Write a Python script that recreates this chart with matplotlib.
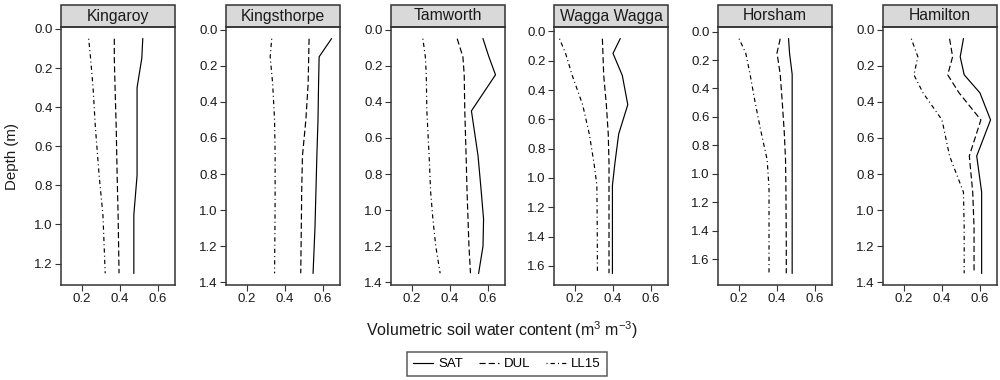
import matplotlib
matplotlib.use('Agg')
import matplotlib.pyplot as plt
from matplotlib.patches import Rectangle
from matplotlib.ticker import MultipleLocator, FormatStrFormatter
from matplotlib.lines import Line2D

plt.rcParams['font.family'] = ['Liberation Sans', 'DejaVu Sans']
plt.rcParams['mathtext.fontset'] = 'custom'
plt.rcParams['mathtext.rm'] = 'Liberation Sans'
plt.rcParams['mathtext.it'] = 'Liberation Sans'

# 各地点の土壌水分プロファイル (depth m, volumetric water content)
sites = ['Kingaroy', 'Kingsthorpe', 'Tamworth', 'Wagga Wagga', 'Horsham', 'Hamilton']

kingaroy_depth = [0.05, 0.15, 0.3, 0.5, 0.75, 0.95, 1.25]
kingaroy_sat = [0.52, 0.515, 0.49, 0.49, 0.49, 0.473, 0.473]
kingaroy_dul = [0.37, 0.37, 0.374, 0.38, 0.385, 0.39, 0.395]
kingaroy_ll15 = [0.235, 0.245, 0.258, 0.27, 0.29, 0.31, 0.322]

kingsthorpe_depth = [0.05, 0.15, 0.3, 0.5, 0.7, 0.9, 1.1, 1.35]
kingsthorpe_sat = [0.645, 0.58, 0.577, 0.574, 0.568, 0.563, 0.558, 0.548]
kingsthorpe_dul = [0.527, 0.525, 0.522, 0.51, 0.492, 0.488, 0.486, 0.483]
kingsthorpe_ll15 = [0.33, 0.322, 0.335, 0.345, 0.348, 0.348, 0.347, 0.345]

tamworth_depth = [0.05, 0.15, 0.25, 0.45, 0.7, 0.9, 1.05, 1.2, 1.35]
tamworth_sat = [0.574, 0.605, 0.64, 0.513, 0.548, 0.565, 0.577, 0.574, 0.551]
tamworth_dul = [0.438, 0.468, 0.475, 0.478, 0.485, 0.49, 0.495, 0.5, 0.508]
tamworth_ll15 = [0.257, 0.27, 0.275, 0.278, 0.29, 0.298, 0.31, 0.325, 0.348]

wagga_depth = [0.05, 0.15, 0.3, 0.5, 0.7, 0.9, 1.05, 1.35, 1.65]
wagga_sat = [0.438, 0.4, 0.449, 0.478, 0.43, 0.41, 0.397, 0.397, 0.397]
wagga_dul = [0.344, 0.347, 0.351, 0.365, 0.375, 0.379, 0.379, 0.379, 0.379]
wagga_ll15 = [0.118, 0.15, 0.185, 0.24, 0.275, 0.3, 0.315, 0.317, 0.318]

horsham_depth = [0.05, 0.15, 0.3, 0.5, 0.7, 0.9, 1.1, 1.3, 1.5, 1.7]
horsham_sat = [0.461, 0.466, 0.48, 0.48, 0.48, 0.48, 0.48, 0.48, 0.48, 0.48]
horsham_dul = [0.417, 0.4, 0.417, 0.428, 0.438, 0.445, 0.447, 0.448, 0.449, 0.449]
horsham_ll15 = [0.2, 0.235, 0.258, 0.285, 0.315, 0.348, 0.358, 0.358, 0.358, 0.358]

hamilton_depth = [0.05, 0.15, 0.25, 0.35, 0.5, 0.7, 0.9, 1.1, 1.35]
hamilton_sat = [0.513, 0.496, 0.517, 0.6, 0.656, 0.583, 0.609, 0.609, 0.609]
hamilton_dul = [0.44, 0.456, 0.43, 0.49, 0.605, 0.544, 0.562, 0.569, 0.569]
hamilton_ll15 = [0.238, 0.273, 0.252, 0.3, 0.4, 0.44, 0.513, 0.517, 0.517]

depths = [kingaroy_depth, kingsthorpe_depth, tamworth_depth, wagga_depth, horsham_depth, hamilton_depth]
sat = [kingaroy_sat, kingsthorpe_sat, tamworth_sat, wagga_sat, horsham_sat, hamilton_sat]
dul = [kingaroy_dul, kingsthorpe_dul, tamworth_dul, wagga_dul, horsham_dul, hamilton_dul]
ll15 = [kingaroy_ll15, kingsthorpe_ll15, tamworth_ll15, wagga_ll15, horsham_ll15, hamilton_ll15]

x_ticks = [0.2, 0.4, 0.6]
legend_labels = ['SAT', 'DUL', 'LL15']

W, H = 1000, 380
fig = plt.figure(figsize=(W / 100, H / 100), dpi=100)

lefts = [61, 226, 391, 554, 718, 883]
pw = 114
bottom, top = 285, 27
strip_h = 22
frame_c = '#333333'
lw = 0.85
styles = ['-', (0, (5.2, 2.6)), (0, (0.9, 2.6, 3.6, 2.6))]

for i, site in enumerate(sites):
    ax = fig.add_axes([lefts[i] / W, (H - bottom) / H, pw / W, (bottom - top) / H])
    d = depths[i]
    for vals, ls in zip([sat[i], dul[i], ll15[i]], styles):
        ax.plot(vals, d, color='black', linewidth=lw, linestyle=ls)
    r = max(d) - min(d)
    ax.set_ylim(max(d) + 0.05 * r, min(d) - 0.05 * r)
    ax.set_xlim(0.089, 0.69)
    ax.set_xticks(x_ticks)
    ax.xaxis.set_major_formatter(FormatStrFormatter('%.1f'))
    ax.yaxis.set_major_locator(MultipleLocator(0.2))
    ax.yaxis.set_major_formatter(FormatStrFormatter('%.1f'))
    ax.tick_params(direction='out', length=4, width=0.8, color=frame_c,
                   labelsize=9.5, labelcolor='#1a1a1a', pad=2)
    for sp in ax.spines.values():
        sp.set_linewidth(1.1)
        sp.set_color(frame_c)
    # ストリップ（ファセットの見出し）
    sh = strip_h / (bottom - top)
    ax.add_patch(Rectangle((0, 1), 1, sh, transform=ax.transAxes, clip_on=False,
                           facecolor='#d9d9d9', edgecolor=frame_c, linewidth=1.1))
    ax.text(0.5, 1 + sh / 2, site, transform=ax.transAxes, ha='center', va='center',
            fontsize=11.3, color='#1a1a1a')

fig.text(12 / W, (H - 157) / H, 'Depth (m)', rotation=90, ha='center', va='center',
         fontsize=10.8, color='#1a1a1a')
fig.text(0.502, (H - 330) / H, r'Volumetric soil water content (m$^3$ m$^{-3}$)',
         ha='center', va='center', fontsize=11.5, color='#1a1a1a')

handles = [Line2D([0], [0], color='black', linewidth=lw, linestyle=ls) for ls in styles]
leg = fig.legend(handles, legend_labels, loc='center', bbox_to_anchor=(0.507, (H - 364) / H),
                 ncol=3, frameon=True, fancybox=False, edgecolor=frame_c, fontsize=9.5,
                 handlelength=1.5, handletextpad=0.4, columnspacing=1.2, borderpad=0.45)
leg.get_frame().set_linewidth(1.1)

fig.savefig('out.png', dpi=100)
